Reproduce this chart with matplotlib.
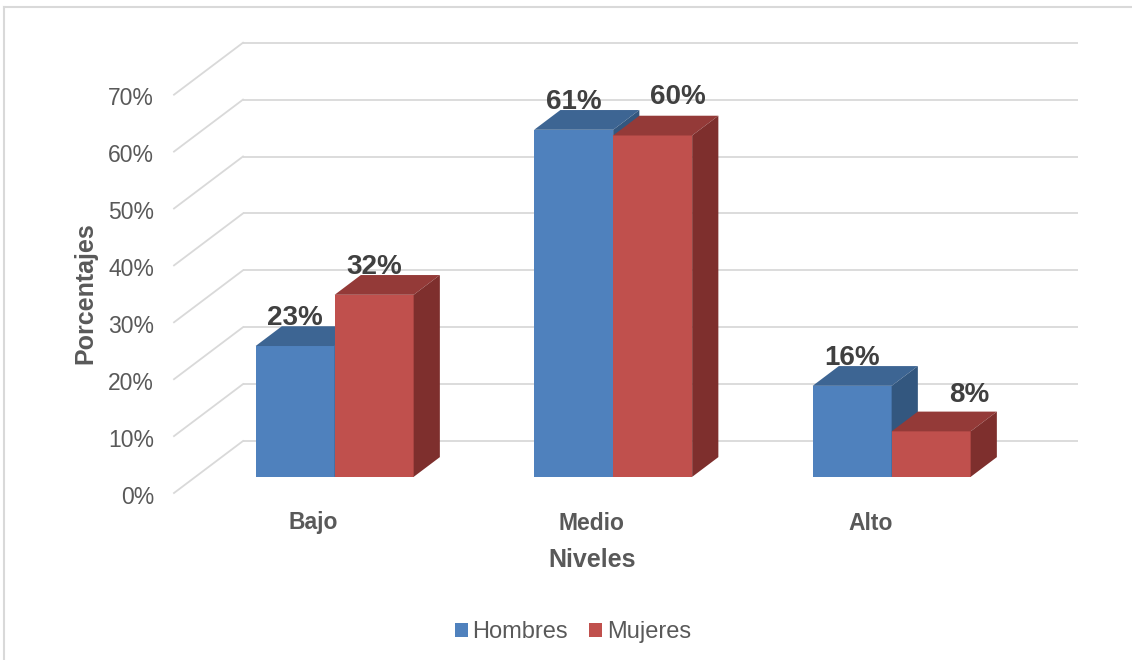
import matplotlib
matplotlib.use("Agg")
import matplotlib.pyplot as plt
from matplotlib.patches import Polygon, Patch
from matplotlib.lines import Line2D

plt.rcParams['font.family'] = ['Liberation Sans', 'DejaVu Sans']

# ---- data ----
categories = ["Bajo", "Medio", "Alto"]
series_names = ["Hombres", "Mujeres"]
hombres = [23, 61, 16]
mujeres = [32, 60, 8]
y_ticks = [0, 10, 20, 30, 40, 50, 60, 70]
x_title = "Niveles"
y_title = "Porcentajes"

# ---- styles ----
face_colors = {"Hombres": ("#4F81BD", "#3D6593", "#33577F"),
               "Mujeres": ("#C0504D", "#943A38", "#7E2F2D")}
grid_color = "#D9D9D9"
text_gray = "#595959"
label_gray = "#404040"

W_PX, H_PX, DPI = 1132, 660, 100
fig = plt.figure(figsize=(W_PX / DPI, H_PX / DPI), dpi=DPI)
ax = fig.add_axes([0, 0, 1, 1])
ax.set_axis_off()

# pixel geometry of the plot frame (front-left corner at 0%, category width, % scale)
x0_px, floor_px = 174.0, 493.0
cat_px, pct_px = 278.5, 5.69
depth_dx_px, depth_dy_px = 69.0, 52.0
ax.set_xlim(-0.5 - x0_px / cat_px, -0.5 + (W_PX - x0_px) / cat_px)
ax.set_ylim(-(H_PX - floor_px) / pct_px, floor_px / pct_px)

DX = depth_dx_px / cat_px   # full depth shift in category units
DY = depth_dy_px / pct_px   # full depth shift in percent units
n = len(categories)
x_lo, x_hi = -0.5, n - 0.5

# back wall gridlines and left wall diagonals
for v in y_ticks:
    ax.plot([x_lo + DX, x_hi + DX], [v + DY, v + DY], color=grid_color, lw=1.3, zorder=1,
            solid_capstyle='butt')
    ax.plot([x_lo, x_lo + DX], [v, v + DY], color=grid_color, lw=1.3, zorder=1)
    ax.annotate(f"{v}%", xy=(x_lo, v), xytext=(-20, -4), textcoords='offset pixels',
                ha='right', va='center', fontsize=16.5, color=text_gray)

# bars
d0, d1 = 0.31, 0.69
bar_w = 79.0 / cat_px
sx, sy = d0 * DX, d0 * DY
ddx, ddy = (d1 - d0) * DX, (d1 - d0) * DY
label_nudge = {(1, 1): (25, 11), (2, 1): (38, 9)}

for i in range(n):
    for j, (name, vals) in enumerate(zip(series_names, [hombres, mujeres])):
        v = vals[i]
        front, top, side = face_colors[name]
        xl = i + sx + (j - 1) * bar_w
        xr = xl + bar_w
        yb = sy
        yt = v + sy
        z = 3 + i * 3 + j
        ax.add_patch(Polygon([(xl, yb), (xr, yb), (xr, yt), (xl, yt)],
                             closed=True, facecolor=front, edgecolor='none', zorder=z))
        ax.add_patch(Polygon([(xl, yt), (xr, yt), (xr + ddx, yt + ddy), (xl + ddx, yt + ddy)],
                             closed=True, facecolor=top, edgecolor='none', zorder=z))
        ax.add_patch(Polygon([(xr, yb), (xr + ddx, yb + ddy), (xr + ddx, yt + ddy), (xr, yt)],
                             closed=True, facecolor=side, edgecolor='none', zorder=z))
        nx, ny = label_nudge.get((i, j), (0, 0))
        ax.annotate(f"{v}%", xy=((xl + xr) / 2, yt + ddy), xytext=(nx, ny + 1),
                    textcoords='offset pixels', ha='center', va='baseline',
                    fontsize=20, fontweight='bold', color=label_gray, zorder=50)

# category labels
for i, c in enumerate(categories):
    ax.annotate(c, xy=(i, 0), xytext=(0, -30), textcoords='offset pixels',
                ha='center', va='center', fontsize=16.5, fontweight='bold', color=text_gray)

# axis titles
ax.annotate(x_title, xy=(1, 0), xytext=(0, -67), textcoords='offset pixels',
            ha='center', va='center', fontsize=18, fontweight='bold', color=text_gray)
fig.text(85 / W_PX, 1 - 293 / H_PX, y_title, rotation=90, ha='center', va='center',
         fontsize=18, fontweight='bold', color=text_gray)

# legend
handles = [Patch(facecolor=face_colors[s][0], edgecolor='none') for s in series_names]
fig.legend(handles, series_names, loc='center', bbox_to_anchor=(573 / W_PX, 1 - 632 / H_PX),
           ncol=2, frameon=False, fontsize=17, handlelength=0.55, handleheight=0.55,
           handletextpad=0.2, columnspacing=0.9, labelcolor=text_gray, borderpad=0)

# chart area border (left and top edges)
fig.add_artist(Line2D([3.5 / W_PX, 3.5 / W_PX], [0, 1 - 7 / H_PX], transform=fig.transFigure,
                      color=grid_color, lw=1.5))
fig.add_artist(Line2D([3.5 / W_PX, 1], [1 - 7 / H_PX, 1 - 7 / H_PX], transform=fig.transFigure,
                      color=grid_color, lw=1.5))

fig.savefig("out.png", dpi=DPI, facecolor="white")
